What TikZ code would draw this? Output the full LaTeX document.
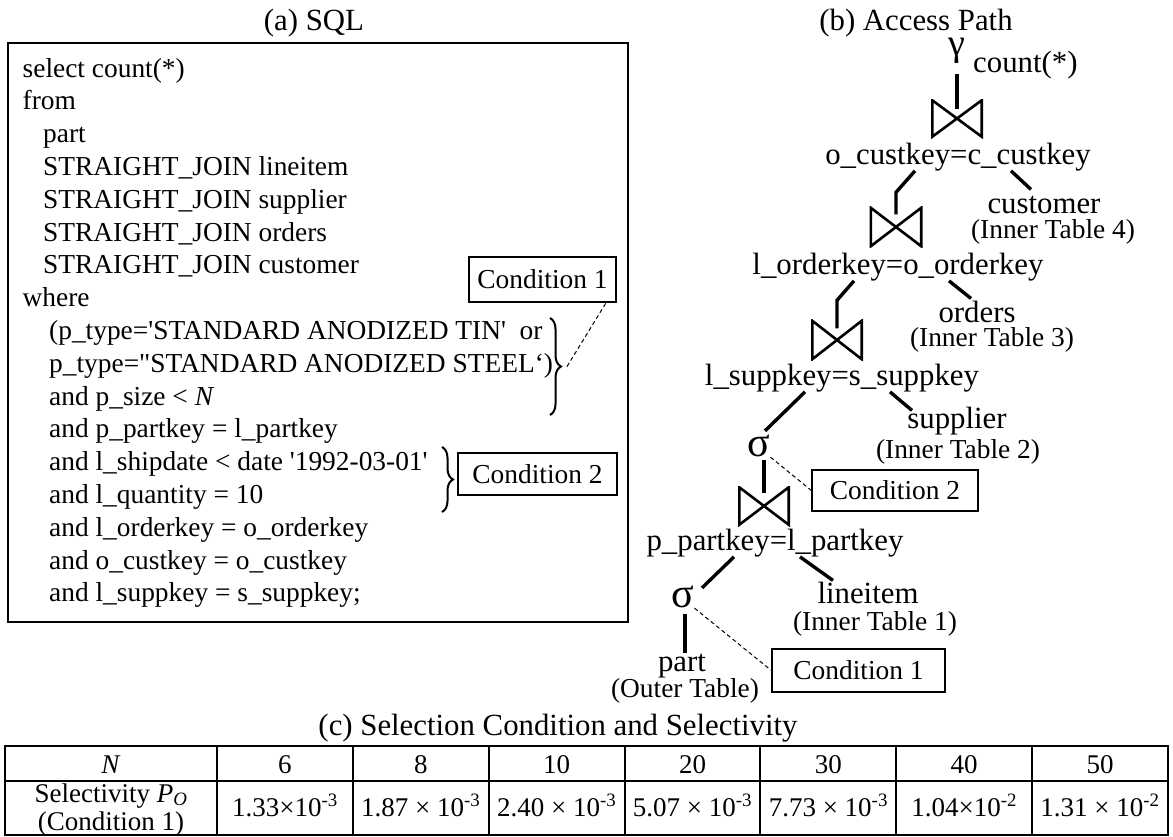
\documentclass[tikz,border=0pt]{standalone}
\usepackage{fontspec}
\setmainfont{Liberation Serif}[Ligatures=TeXOff]
\usetikzlibrary{decorations.pathreplacing, calc}

\newcommand{\sqlsize}{\fontsize{27.4pt}{32.8pt}\selectfont}
\newcommand{\labsize}{\fontsize{30.8pt}{34pt}\selectfont}
\newcommand{\tabsize}{\fontsize{27pt}{28pt}\selectfont}
\newcommand{\gamsize}{\fontsize{38pt}{40pt}\selectfont}
\newcommand{\sigsize}{\fontsize{42pt}{44pt}\selectfont}

\tikzset{
	sqlline/.style={anchor=base west, inner sep=0pt, font=\sqlsize},
	lab/.style={anchor=base, inner sep=0pt, font=\labsize},
	tabname/.style={anchor=base, inner sep=0pt, font=\sqlsize},
	cond/.style={draw, line width=1.3pt, inner xsep=8pt, inner ysep=0pt, font=\sqlsize},
	greek/.style={inner sep=0pt},
	joinop/.style={minimum width=52pt, minimum height=40pt, inner sep=0pt,
		path picture={\draw[line width=2.6pt, line join=miter]
			([xshift=1.3pt,yshift=-1.3pt]path picture bounding box.north west) --
			([xshift=-1.3pt,yshift=1.3pt]path picture bounding box.south east) --
			([xshift=-1.3pt,yshift=-1.3pt]path picture bounding box.north east) --
			([xshift=1.3pt,yshift=1.3pt]path picture bounding box.south west) -- cycle;}},
	link/.style={line width=3.4pt},
	lead/.style={line width=1pt, dash pattern=on 4pt off 3pt},
	curly/.style={decorate, decoration={brace, amplitude=11pt}, line width=2pt},
	tabrule/.style={line width=2pt},
	cell/.style={anchor=base, inner sep=0pt, font=\tabsize}
}

\begin{document}
\begin{tikzpicture}[x=1pt, y=-1pt]
	\useasboundingbox (0,0) rectangle (1173,836);

	% (a) the query
	\node[lab] (ttla) at (314,30) {(a) SQL};
	\node[draw, line width=1.3pt, minimum width=620pt, minimum height=579pt, inner sep=0pt] (sqlbox) at (318,332.5) {};
	\foreach \ind/\txt [count=\i from 0] in {
		22.5/{select count(*)},
		22.5/{from},
		43/{part},
		43/{STRAIGHT\_JOIN lineitem},
		43/{STRAIGHT\_JOIN supplier},
		43/{STRAIGHT\_JOIN orders},
		43/{STRAIGHT\_JOIN customer},
		22.5/{where},
		49/{(p\_type='STANDARD ANODIZED TIN'\ \ or},
		49/{p\_type="STANDARD ANODIZED STEEL‘)},
		49/{and p\_size < \textit{N}},
		49/{and p\_partkey = l\_partkey},
		49/{and l\_shipdate < date '1992-03-01'},
		49/{and l\_quantity = 10},
		49/{and l\_orderkey = o\_orderkey},
		49/{and o\_custkey = o\_custkey},
		49/{and l\_suppkey = s\_suppkey;}}
		\node[sqlline] (q\i) at (\ind,{77+32.8*\i}) {\txt};

	\node[cond, minimum width=147pt, minimum height=45pt] (cond1a) at (542.5,279.5) {Condition 1};
	\draw[curly] (550,318) -- coordinate (tip1) (550,415);
	\draw[lead] ([xshift=17pt]tip1) -- (cond1a.-20);

	\draw[curly] (442,447) -- (442,512);
	\node[cond, minimum width=159pt, minimum height=42pt] (cond2a) at (537.5,474) {Condition 2};

	% (b) the join tree
	\node[lab] (ttlb) at (916,30) {(b) Access Path};
	\node[greek, font=\gamsize] (gam) at (957,51) {γ};
	\node[lab, anchor=base west] (cnt) at (973,72) {count(*)};

	\node[joinop, minimum height=39pt] (j1) at (957,118.5) {};
	\node[lab] (ck) at (958,164) {o\_custkey=c\_custkey};
	\node[lab] (cust) at (1044,213) {customer};
	\node[tabname] (cust2) at (1053,238) {(Inner Table 4)};

	\node[joinop, minimum width=53pt, minimum height=41pt] (j2) at (896,227) {};
	\node[lab] (ok) at (898,274) {l\_orderkey=o\_orderkey};
	\node[lab] (ord) at (977,322) {orders};
	\node[tabname] (ord2) at (992,346) {(Inner Table 3)};

	\node[joinop, minimum height=41pt] (j3) at (837,340) {};
	\node[lab] (sk) at (842,385) {l\_suppkey=s\_suppkey};
	\node[lab] (supp) at (957,428) {supplier};
	\node[tabname] (supp2) at (958,458) {(Inner Table 2)};

	\node[greek, font=\sigsize] (s1) at (759,446) {σ};
	\node[cond, minimum width=166pt, minimum height=41pt] (cond2b) at (895,490.5) {Condition 2};

	\node[joinop] (j4) at (764,506) {};
	\node[lab] (pk) at (775,550) {p\_partkey=l\_partkey};
	\node[lab] (line) at (868,603) {lineitem};
	\node[tabname] (line2) at (875,630) {(Inner Table 1)};

	\node[greek, font=\sigsize] (s2) at (683,597) {σ};
	\node[cond, minimum width=173pt, minimum height=43pt] (cond1b) at (858.5,670.5) {Condition 1};
	\node[lab] (part) at (682,671) {part};
	\node[tabname] (part2) at (685,697) {(Outer Table)};

	\draw[link] ([yshift=-10pt]gam.south) -- ([yshift=-10pt]j1.north);
	\draw[link] ([xshift=-43pt]ck.south) -- ([yshift=14pt]j2.north) -- ([yshift=-8pt]j2.north);
	\draw[link] ([xshift=53pt]ck.south) -- ([xshift=-13pt,yshift=6pt]cust.north);
	\draw[link] ([xshift=-44pt]ok.south) -- ([yshift=19pt]j3.north) -- ([yshift=-9pt]j3.north);
	\draw[link] ([xshift=51pt]ok.south) -- ([xshift=-6pt,yshift=2pt]ord.north);
	\draw[link] ([xshift=-37pt]sk.south) -- ([xshift=6pt,yshift=4pt]s1.north);
	\draw[link] ([xshift=48pt]sk.south) -- ([xshift=-45pt,yshift=-4pt]supp.north);
	\draw[link, shorten <=3pt] (s1.south -| j4.north) -- ([yshift=-7pt]j4.north);
	\draw[link] ([xshift=-41pt]pk.south) -- ([xshift=19pt,yshift=-2pt]s2.north);
	\draw[link] ([xshift=25pt]pk.south) -- ([xshift=-35pt,yshift=1pt]line.north);
	\draw[link, shorten <=6pt] ([xshift=2pt]s2.south) -- ([xshift=3pt]part.north);
	\draw[lead] (s1.south east) -- (cond2b.west);
	\draw[lead] (s2.south east) -- (cond1b.west);

	% (c) selectivity table
	\node[lab] (ttlc) at (558,735) {(c) Selection Condition and Selectivity};
	\draw[tabrule] (5,746) rectangle (1168,835);
	\draw[tabrule] (5,781) -- (1168,781);
	\foreach \k in {0,...,6}
		\draw[tabrule] ({217+135.857*\k},746) -- ++(0,89);

	\node[cell] (nh) at (111,773) {\textit{N}};
	\node[cell, anchor=center, align=center] (ph) at (111,809.5) {Selectivity \textit{P}\textsubscript{\textit{O}}\\(Condition 1)};
	\foreach \n/\p [count=\k from 0] in {
		6/{1.33×10\textsuperscript{-3}},
		8/{1.87 × 10\textsuperscript{-3}},
		10/{2.40 × 10\textsuperscript{-3}},
		20/{5.07 × 10\textsuperscript{-3}},
		30/{7.73 × 10\textsuperscript{-3}},
		40/{1.04×10\textsuperscript{-2}},
		50/{1.31 × 10\textsuperscript{-2}}} {
		\node[cell] (n\k) at ({217+135.857*(\k+0.5)},773) {\n};
		\node[cell] (p\k) at ({217+135.857*(\k+0.5)},816) {\p};
	}
\end{tikzpicture}
\end{document}
